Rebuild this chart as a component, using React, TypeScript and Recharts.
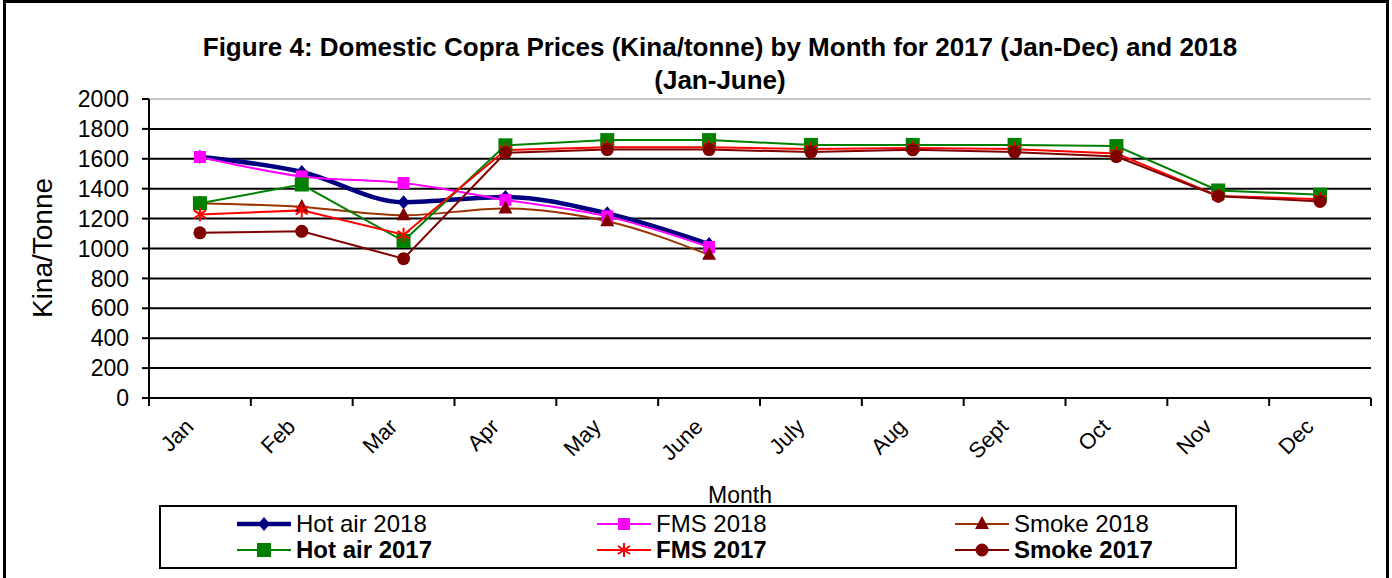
import React from "react";
import {
  CartesianGrid,
  Label,
  Line,
  LineChart,
  ReferenceLine,
  XAxis,
  YAxis,
} from "recharts";

const months = ["Jan", "Feb", "Mar", "Apr", "May", "June", "July", "Aug", "Sept", "Oct", "Nov", "Dec"];

const hotAir2018 = [1614, 1512, 1310, 1345, 1235, 1030];
const fms2018 = [1612, 1482, 1438, 1325, 1215, 1010];
const smoke2018 = [1303, 1278, 1222, 1268, 1182, 958];
const hotAir2017 = [1303, 1428, 1050, 1690, 1725, 1725, 1693, 1693, 1693, 1685, 1388, 1360];
const fms2017 = [1228, 1255, 1092, 1658, 1678, 1678, 1665, 1672, 1665, 1635, 1352, 1330];
const smoke2017 = [1105, 1115, 932, 1640, 1662, 1662, 1645, 1660, 1645, 1615, 1350, 1315];

const yTicks = [0, 200, 400, 600, 800, 1000, 1200, 1400, 1600, 1800, 2000];

const data = months.map((month, i) => ({
  month,
  hotAir2018: hotAir2018[i],
  fms2018: fms2018[i],
  smoke2018: smoke2018[i],
  hotAir2017: hotAir2017[i],
  fms2017: fms2017[i],
  smoke2017: smoke2017[i],
}));

const FONT = '"Liberation Sans", Arial, sans-serif';
const W = 1392;
const H = 578;
const margin = { top: 99, right: 21, bottom: 120, left: 0 };
const Y_AXIS_W = 149;
const band = (W - margin.right - margin.left - Y_AXIS_W) / months.length;

type Shape = "diamond" | "square" | "triangle" | "bigSquare" | "star" | "circle";

const Marker = ({ cx, cy, shape, color }: { cx: number; cy: number; shape: Shape; color: string }) => {
  switch (shape) {
    case "diamond":
      return <path d={`M${cx},${cy - 7}L${cx + 6},${cy}L${cx},${cy + 7}L${cx - 6},${cy}Z`} fill={color} />;
    case "square":
      return <rect x={cx - 6} y={cy - 6} width={12} height={12} fill={color} />;
    case "bigSquare":
      return <rect x={cx - 7} y={cy - 7} width={14} height={14} fill={color} />;
    case "triangle":
      return <path d={`M${cx},${cy - 8}L${cx + 7},${cy + 5}L${cx - 7},${cy + 5}Z`} fill={color} />;
    case "star":
      return (
        <g stroke={color} strokeWidth={2}>
          <line x1={cx} y1={cy - 7} x2={cx} y2={cy + 7} />
          <line x1={cx - 6} y1={cy - 4} x2={cx + 6} y2={cy + 4} />
          <line x1={cx - 6} y1={cy + 4} x2={cx + 6} y2={cy - 4} />
        </g>
      );
    default:
      return <circle cx={cx} cy={cy} r={6.5} fill={color} />;
  }
};

const dotOf = (shape: Shape, color: string) => (p: any) => {
  if (p.cx == null || p.cy == null || p.value == null) return <g key={p.index} />;
  return (
    <g key={p.index}>
      <Marker cx={p.cx} cy={p.cy} shape={shape} color={color} />
    </g>
  );
};

const series = [
  { key: "hotAir2018", name: "Hot air 2018", stroke: "#000080", width: 4.5, smooth: true, shape: "diamond" as Shape, mark: "#000080", bold: false },
  { key: "fms2018", name: "FMS 2018", stroke: "#FF00FF", width: 2, smooth: true, shape: "square" as Shape, mark: "#FF00FF", bold: false },
  { key: "smoke2018", name: "Smoke 2018", stroke: "#993300", width: 2, smooth: true, shape: "triangle" as Shape, mark: "#800000", bold: false },
  { key: "hotAir2017", name: "Hot air 2017", stroke: "#008000", width: 2, smooth: false, shape: "bigSquare" as Shape, mark: "#008000", bold: true },
  { key: "fms2017", name: "FMS 2017", stroke: "#FF0000", width: 2, smooth: false, shape: "star" as Shape, mark: "#FF0000", bold: true },
  { key: "smoke2017", name: "Smoke 2017", stroke: "#800000", width: 2, smooth: false, shape: "circle" as Shape, mark: "#800000", bold: true },
];

const MonthTick = (props: any) => {
  const { x, y, payload, index } = props;
  const left = x - band / 2;
  const tx = x - 5;
  const ty = y + 22;
  return (
    <g>
      <line x1={left} y1={y - 8} x2={left} y2={y} stroke="#000" strokeWidth={2} />
      {index === months.length - 1 && (
        <line x1={x + band / 2} y1={y - 8} x2={x + band / 2} y2={y} stroke="#000" strokeWidth={2} />
      )}
      <text
        x={tx}
        y={ty}
        textAnchor="end"
        fontSize={22}
        fontFamily={FONT}
        fill="#000"
        transform={`rotate(-45 ${tx} ${ty})`}
      >
        {payload.value}
      </text>
    </g>
  );
};

const legendCols = [237, 597, 955];

const LegendBox = () => (
  <div
    style={{
      position: "absolute",
      left: 159,
      top: 505,
      width: 1078,
      height: 64,
      border: "2px solid #000",
      boxSizing: "border-box",
      background: "#fff",
      fontFamily: FONT,
    }}
  >
    {series.map((s, i) => {
      const col = i % 3;
      const row = Math.floor(i / 3);
      return (
        <div
          key={s.key}
          style={{
            position: "absolute",
            left: legendCols[col] - 161,
            top: 4 + row * 26,
            height: 26,
            display: "flex",
            alignItems: "center",
            whiteSpace: "nowrap",
          }}
        >
          <svg width={56} height={20} style={{ marginRight: 3 }}>
            <line x1={0} y1={10} x2={54} y2={10} stroke={s.stroke} strokeWidth={s.width} />
            <Marker cx={27} cy={10} shape={s.shape} color={s.mark} />
          </svg>
          <span style={{ fontSize: 24, fontWeight: s.bold ? "bold" : "normal", lineHeight: "24px" }}>{s.name}</span>
        </div>
      );
    })}
  </div>
);

export default function App() {
  return (
    <div style={{ position: "absolute", left: 0, top: 0, width: W, height: H, overflow: "hidden", background: "#fff" }}>
      <LineChart width={W} height={H} data={data} margin={margin}>
        <text x={720} y={56} textAnchor="middle" fontSize={26} fontWeight="bold" fontFamily={FONT} fill="#000">
          Figure 4: Domestic Copra Prices (Kina/tonne) by Month for 2017 (Jan-Dec) and 2018
        </text>
        <text x={720} y={89} textAnchor="middle" fontSize={26} fontWeight="bold" fontFamily={FONT} fill="#000">
          (Jan-June)
        </text>
        <CartesianGrid
          vertical={false}
          stroke="#000"
          strokeWidth={2}
          horizontalValues={[200, 400, 600, 800, 1000, 1200, 1400, 1600, 1800]}
        />
        <ReferenceLine y={2000} stroke="#c8c8c8" strokeWidth={2} />
        <XAxis
          dataKey="month"
          scale="band"
          height={60}
          axisLine={{ stroke: "#000", strokeWidth: 2 }}
          tickLine={false}
          tickSize={8}
          tickMargin={0}
          interval={0}
          tick={<MonthTick />}
        >
          <Label
            content={() => (
              <text x={740} y={503} textAnchor="middle" fontSize={23} fontFamily={FONT} fill="#000">
                Month
              </text>
            )}
          />
        </XAxis>
        <YAxis
          width={Y_AXIS_W}
          domain={[0, 2000]}
          ticks={yTicks}
          interval={0}
          axisLine={{ stroke: "#000", strokeWidth: 2 }}
          tickLine={{ stroke: "#000", strokeWidth: 2 }}
          tickSize={7}
          tickMargin={13}
          tick={{ fontSize: 23, fill: "#000", fontFamily: FONT }}
        >
          <Label
            content={() => (
              <text
                x={42}
                y={248}
                textAnchor="middle"
                dominantBaseline="central"
                fontSize={28}
                fontFamily={FONT}
                fill="#000"
                transform="rotate(-90 42 248)"
              >
                Kina/Tonne
              </text>
            )}
          />
        </YAxis>
        {series.map((s) => (
          <Line
            key={s.key}
            dataKey={s.key}
            name={s.name}
            type={s.smooth ? "monotone" : "linear"}
            stroke={s.stroke}
            strokeWidth={s.width}
            dot={dotOf(s.shape, s.mark)}
            activeDot={false}
            connectNulls={false}
            isAnimationActive={false}
          />
        ))}
      </LineChart>
      <LegendBox />
      <div
        style={{
          position: "absolute",
          left: 3,
          top: 0,
          width: 1386,
          height: 600,
          border: "3px solid #000",
          boxSizing: "border-box",
          pointerEvents: "none",
        }}
      />
    </div>
  );
}
